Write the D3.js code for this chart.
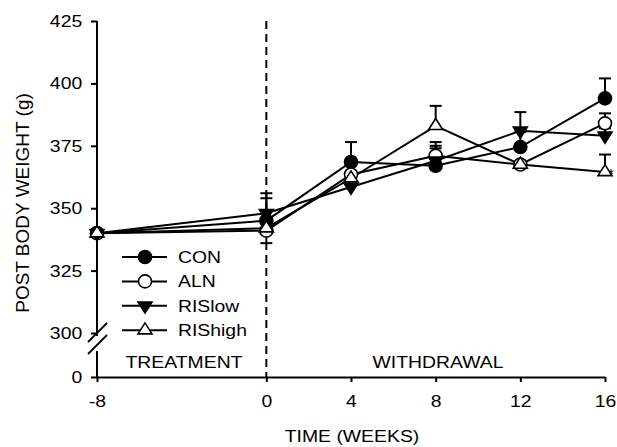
<!DOCTYPE html>
<html>
<head>
<meta charset="utf-8">
<script src="https://cdn.jsdelivr.net/npm/d3@7"></script>
<style>
  body { margin: 0; background: #fff; }
  svg text { font-family: "Liberation Sans", Arial, sans-serif; fill: #000; }
</style>
</head>
<body>
<svg id="chart" width="617" height="447"></svg>
<script>
// data
var weeks = [-8, 0, 4, 8, 12, 16];
var seriesNames = ["CON", "ALN", "RISlow", "RIShigh"];
var conVals = [340, 345, 368.5, 367, 374.5, 394];
var alnVals = [340, 341, 363.5, 371, 367.5, 384];
var rislowVals = [340, 348, 358.5, 369, 381, 379];
var rishighVals = [340, 342, 362, 383, 367.5, 364.5];
// error bar lengths (negative = drawn downward, 0 = none)
var conErr = [0, 11, 8, 8, 6, 8];
var alnErr = [0, -5, 0, 5.5, 0, 4];
var rislowErr = [0, 6, 0, 5, 7.5, 3];
var rishighErr = [0, 0, 0, 8, 0, 7];
var xTicks = [-8, 0, 4, 8, 12, 16];
var yTicks = [0, 300, 325, 350, 375, 400, 425];

var svg = d3.select("#chart");
var stretch = 1.14;   // the original lettering is a bit wide
var fs = 17;

// scales: y axis has a break between 0 and 300
var x = d3.scaleLinear().domain([-8, 16]).range([97, 605]);
var y = d3.scaleLinear().domain([0, 300, 425]).range([377, 333, 21]);

var series = [
  { name: seriesNames[0], vals: conVals, err: conErr, shape: "circle", fill: "#000" },
  { name: seriesNames[1], vals: alnVals, err: alnErr, shape: "circle", fill: "#fff" },
  { name: seriesNames[2], vals: rislowVals, err: rislowErr, shape: "down", fill: "#000" },
  { name: seriesNames[3], vals: rishighVals, err: rishighErr, shape: "up", fill: "#fff" }
];

function drawMarker(g, shape, fill, cx, cy) {
  if (shape === "circle") {
    g.append("circle").attr("cx", cx).attr("cy", cy).attr("r", 6.5)
      .attr("fill", fill).attr("stroke", "#000").attr("stroke-width", 1.6);
  } else {
    var h = 11, w = 7;
    var pts = shape === "up"
      ? [[cx - w, cy + h / 3], [cx + w, cy + h / 3], [cx, cy - 2 * h / 3]]
      : [[cx - w, cy - h / 3], [cx + w, cy - h / 3], [cx, cy + 2 * h / 3]];
    g.append("path").attr("d", "M" + pts.join("L") + "Z")
      .attr("fill", fill).attr("stroke", "#000").attr("stroke-width", 1.6);
  }
}

function label(tx, ty, str, anchor) {
  return svg.append("text")
    .attr("transform", "translate(" + tx + "," + ty + ") scale(" + stretch + ",1)")
    .attr("text-anchor", anchor || "middle")
    .attr("font-size", fs)
    .text(str);
}

// dashed divider at week 0
svg.append("line")
  .attr("x1", x(0)).attr("x2", x(0))
  .attr("y1", y(425)).attr("y2", y(0))
  .attr("stroke", "#000").attr("stroke-width", 2)
  .attr("stroke-dasharray", "8,5");

// axes
var xAxis = d3.axisBottom(x).tickValues(xTicks).tickFormat(String)
  .tickSize(5).tickSizeOuter(0).tickPadding(13);
var gx = svg.append("g").attr("transform", "translate(0," + y(0) + ")").call(xAxis);
gx.select(".domain").attr("stroke-width", 2);
gx.selectAll(".tick line").attr("stroke-width", 2);
gx.selectAll("text").attr("font-size", fs).attr("transform", "scale(" + stretch + ",1)");

var yAxis = d3.axisLeft(y).tickValues(yTicks).tickFormat(String)
  .tickSize(6).tickSizeOuter(0).tickPadding(7);
var gy = svg.append("g").attr("transform", "translate(" + x(-8) + ",0)").call(yAxis);
gy.select(".domain").remove();
gy.selectAll(".tick line").attr("stroke-width", 2);
gy.selectAll("text").attr("font-size", fs).attr("transform", "scale(" + stretch + ",1)");

// y axis line in two parts with a break
svg.append("line").attr("x1", x(-8)).attr("x2", x(-8))
  .attr("y1", y(425)).attr("y2", 336).attr("stroke", "#000").attr("stroke-width", 2);
svg.append("line").attr("x1", x(-8)).attr("x2", x(-8))
  .attr("y1", 351).attr("y2", y(0)).attr("stroke", "#000").attr("stroke-width", 2);
[0, 12].forEach(function(off) {
  svg.append("line")
    .attr("x1", x(-8) - 9).attr("y1", 342 + off)
    .attr("x2", x(-8) + 10).attr("y2", 323 + off)
    .attr("stroke", "#000").attr("stroke-width", 1.8);
});

// series lines
var line = d3.line().x(function(d, i) { return x(weeks[i]); }).y(function(d) { return y(d); });
series.forEach(function(s) {
  svg.append("path").datum(s.vals).attr("d", line)
    .attr("fill", "none").attr("stroke", "#000").attr("stroke-width", 2);
});

// error bars
series.forEach(function(s) {
  s.err.forEach(function(e, i) {
    if (!e) return;
    var cx = x(weeks[i]), y0 = y(s.vals[i]), y1 = y(s.vals[i] + e);
    svg.append("line").attr("x1", cx).attr("x2", cx).attr("y1", y0).attr("y2", y1)
      .attr("stroke", "#000").attr("stroke-width", 2);
    svg.append("line").attr("x1", cx - 6).attr("x2", cx + 6).attr("y1", y1).attr("y2", y1)
      .attr("stroke", "#000").attr("stroke-width", 2);
  });
});

// markers
series.forEach(function(s) {
  var g = svg.append("g");
  s.vals.forEach(function(v, i) { drawMarker(g, s.shape, s.fill, x(weeks[i]), y(v)); });
});

// significance mark
svg.append("text").attr("x", 608).attr("y", 179).attr("font-size", 15).text("*");

// legend
var legend = svg.append("g");
series.forEach(function(s, i) {
  var ly = 257 + i * 24.4;
  legend.append("line").attr("x1", 122).attr("x2", 167).attr("y1", ly).attr("y2", ly)
    .attr("stroke", "#000").attr("stroke-width", 2);
  drawMarker(legend, s.shape, s.fill, 145, ly);
  label(178, ly + 6, s.name, "start");
});

// period labels
label(184, 368, "TREATMENT");
label(438, 368, "WITHDRAWAL");

// axis titles
label(352, 442, "TIME (WEEKS)");
svg.append("text").attr("transform", "translate(29,203) rotate(-90)")
  .attr("text-anchor", "middle").attr("font-size", 19).text("POST BODY WEIGHT (g)");
</script>
</body>
</html>
